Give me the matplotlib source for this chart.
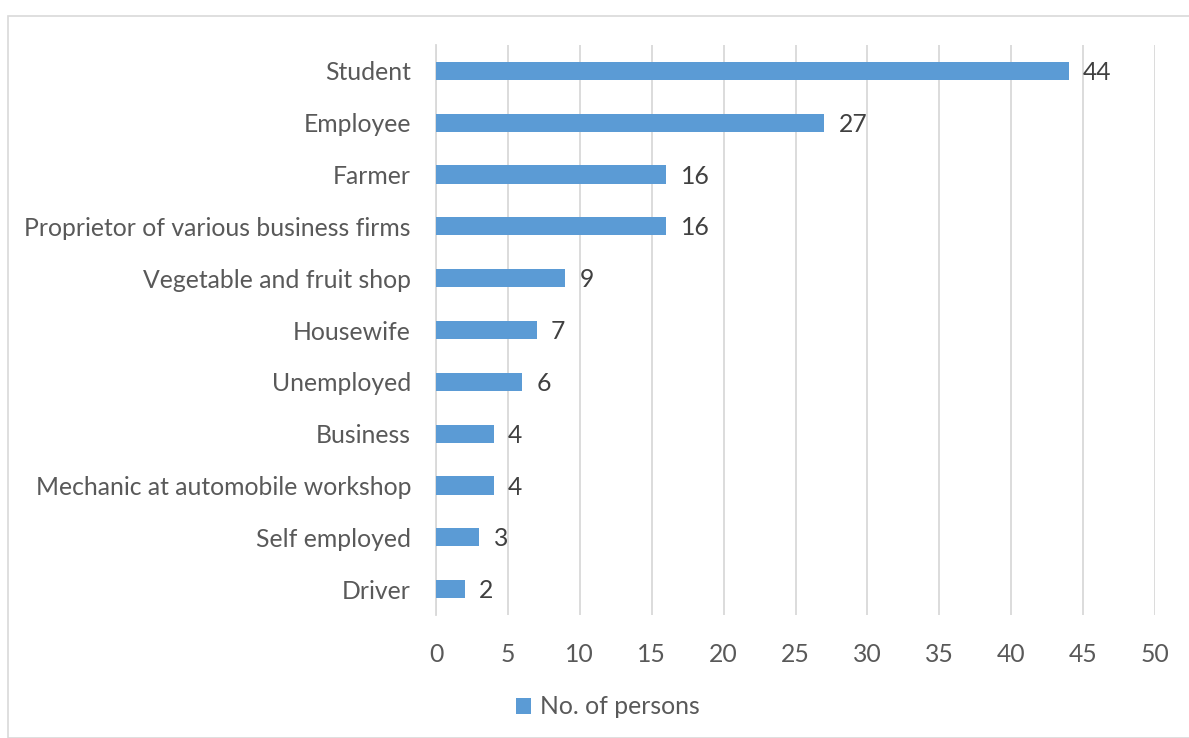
import matplotlib.pyplot as plt
from matplotlib.patches import Rectangle

categories = ["Student", "Employee", "Farmer", "Proprietor of various business firms",
              "Vegetable and fruit shop", "Housewife", "Unemployed", "Business",
              "Mechanic at automobile workshop", "Self employed", "Driver"]
persons = [44, 27, 16, 16, 9, 7, 6, 4, 4, 3, 2]
x_ticks = [0, 5, 10, 15, 20, 25, 30, 35, 40, 45, 50]

BAR = "#5B9BD5"
TEXT = "#595959"
GRID = "#D9D9D9"
FS = 17.8

plt.rcParams["font.family"] = ["Lato", "DejaVu Sans"]

fig = plt.figure(figsize=(11.89, 7.38), dpi=100)
ax = fig.add_axes([436 / 1189, 1 - 615 / 738, (1155 - 436) / 1189, (615 - 45) / 738])

ypos = list(range(len(categories)))
ax.barh(ypos, persons, height=0.35, color=BAR, zorder=3, label="No. of persons")
for y, v in zip(ypos, persons):
    ax.text(v + 1.0, y + 0.03, str(v), va="center", ha="left", fontsize=FS, color="#404040")

ax.set_yticks(ypos)
ax.set_yticklabels(categories)
ax.set_ylim(len(categories) - 0.5, -0.5)
ax.set_xlim(0, 50)
ax.set_xticks(x_ticks)
ax.tick_params(axis="both", length=0, labelsize=FS, colors=TEXT)
ax.tick_params(axis="y", pad=18)
ax.tick_params(axis="x", pad=20)
ax.xaxis.grid(True, color=GRID, linewidth=1.3, zorder=0)
for s in ["top", "right", "bottom"]:
    ax.spines[s].set_visible(False)
ax.spines["left"].set_color(GRID)
ax.spines["left"].set_linewidth(1.3)

fig.legend(loc="center", bbox_to_anchor=(608 / 1189, 1 - 707 / 738), frameon=False,
           fontsize=FS, labelcolor=TEXT, handlelength=0.6, handleheight=0.6,
           handletextpad=0.4)

fig.add_artist(Rectangle((8 / 1189, 0), 1.2, 1 - 16 / 738, transform=fig.transFigure,
                         fill=False, edgecolor="#D9D9D9", linewidth=1.2))

plt.savefig("out.png", dpi=100)
plt.close()
